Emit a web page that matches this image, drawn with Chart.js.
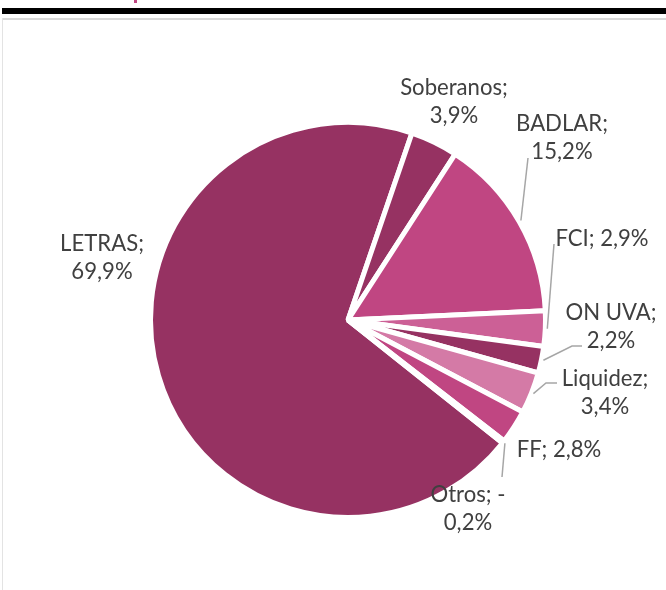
<!DOCTYPE html>
<html>
<head>
<meta charset="utf-8">
<script src="https://cdn.jsdelivr.net/npm/chart.js@4.4.1/dist/chart.umd.min.js"></script>
<style>
  html, body { margin: 0; padding: 0; background: #ffffff; width: 666px; height: 590px; overflow: hidden; }
  #wrap { position: relative; width: 666px; height: 590px; }
  #topbar { position: absolute; left: 2px; top: 8px; width: 664px; height: 6px; background: #000000; }
  #topline { position: absolute; left: 2px; top: 18px; width: 664px; height: 2px; background: #d9d9d9; }
  #leftline { position: absolute; left: 2px; top: 18px; width: 1px; height: 572px; background: #e3e3e3; }
  #mark { position: absolute; left: 134px; top: 0px; width: 3px; height: 3px; background: #c04682; }
  canvas { position: absolute; left: 0; top: 0; }
</style>
</head>
<body>
<div id="wrap">
  <div id="topbar"></div>
  <div id="topline"></div>
  <div id="leftline"></div>
  <div id="mark"></div>
  <canvas id="c" width="666" height="590"></canvas>
</div>
<script>
// ---- data ----
const categories = ['LETRAS', 'Soberanos', 'BADLAR', 'FCI', 'ON UVA', 'Liquidez', 'FF', 'Otros'];
const shares = [69.9, 3.9, 15.2, 2.9, 2.2, 3.4, 2.8, -0.2];

// ---- style ----
const sliceColors = ['#963262', '#963262', '#c04682', '#cc6096', '#963262', '#d47aa6', '#c04682', '#cc6096'];
const wrapLabel = [true, true, true, false, true, true, false, true];
// label block centres, relative to pie centre (px)
const labelOffsets = [[-246, -63], [106, -219], [214, -183], [254, -82], [263, 6], [257, 72], [211, 129], [120, 188]];
// leader polyline points, relative to label centre (px); null = no leader
const leaderPts = [null, null, [[-34, 21]], [[-48, 6]], [[-29, 20], [-39, 20]], [[-48, -9], [-59, -9]], null, [[34, -31]]];

function fmt(v) {
  return Math.abs(v).toFixed(1).replace('.', ',') + '%';
}
function labelLines(i) {
  const v = shares[i];
  const sign = v < 0 ? '-' : '';
  if (wrapLabel[i]) return [categories[i] + '; ' + sign, fmt(v)].map(s => s.trim());
  return [categories[i] + '; ' + sign + fmt(v)];
}

const labelPlugin = {
  id: 'excelLabels',
  afterDatasetsDraw(chart) {
    const ctx = chart.ctx;
    const meta = chart.getDatasetMeta(0);
    ctx.save();
    ctx.font = '22px Lato';
    const fs = 22 * 107.7 / ctx.measureText('Soberanos;').width;
    ctx.font = fs.toFixed(2) + 'px Lato';
    ctx.fillStyle = '#404040';
    ctx.textAlign = 'center';
    ctx.textBaseline = 'alphabetic';
    const lineGap = 28.5;
    meta.data.forEach((arc, i) => {
      const p = arc.getProps(['x', 'y', 'startAngle', 'endAngle', 'outerRadius'], true);
      const cx = p.x + labelOffsets[i][0];
      const cy = p.y + labelOffsets[i][1];
      // leader
      if (leaderPts[i]) {
        const mid = (p.startAngle + p.endAngle) / 2;
        const ex = p.x + Math.cos(mid) * (p.outerRadius + 2);
        const ey = p.y + Math.sin(mid) * (p.outerRadius + 2);
        ctx.beginPath();
        ctx.strokeStyle = '#a6a6a6';
        ctx.lineWidth = 1.5;
        leaderPts[i].forEach((pt, k) => {
          if (k === 0) ctx.moveTo(cx + pt[0], cy + pt[1]);
          else ctx.lineTo(cx + pt[0], cy + pt[1]);
        });
        ctx.lineTo(ex, ey);
        ctx.stroke();
      }
      const lines = labelLines(i);
      const n = lines.length;
      lines.forEach((t, k) => {
        const by = cy + (k - (n - 1) / 2) * lineGap + 8;
        ctx.fillText(t, cx, by);
      });
    });
    ctx.restore();
  }
};

new Chart(document.getElementById('c'), {
  type: 'pie',
  data: {
    labels: categories,
    datasets: [{
      data: shares.map(v => Math.abs(v)),
      backgroundColor: sliceColors,
      borderColor: '#ffffff',
      borderWidth: 5
    }]
  },
  options: {
    responsive: false,
    devicePixelRatio: 1,
    animation: false,
    rotation: 128.5,
    radius: 197.5,
    layout: { padding: { left: 30, right: 0, top: 50, bottom: 0 } },
    plugins: { legend: { display: false }, tooltip: { enabled: false } }
  },
  plugins: [labelPlugin]
});
</script>
</body>
</html>
